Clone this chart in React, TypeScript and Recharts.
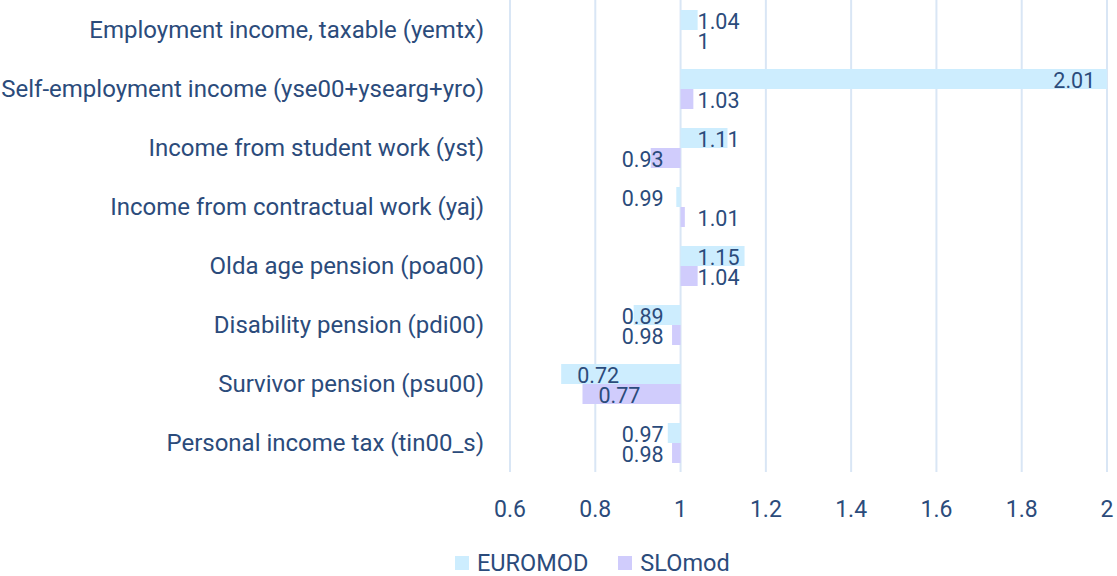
import React from 'react'
import {
  BarChart,
  Bar,
  XAxis,
  YAxis,
  CartesianGrid,
  Legend,
} from 'recharts'

const categories = [
  'Employment income, taxable (yemtx)',
  'Self-employment income (yse00+ysearg+yro)',
  'Income from student work (yst)',
  'Income from contractual work (yaj)',
  'Olda age pension (poa00)',
  'Disability pension (pdi00)',
  'Survivor pension (psu00)',
  'Personal income tax (tin00_s)',
]

const euromod = [1.04, 2.01, 1.11, 0.99, 1.15, 0.89, 0.72, 0.97]
const slomod = [1, 1.03, 0.93, 1.01, 1.04, 0.98, 0.77, 0.98]

const xTicks = [0.6, 0.8, 1, 1.2, 1.4, 1.6, 1.8, 2]
const BASE = 1

const TEXT = '#2b4b7b'
const FONT = 'Roboto, sans-serif'
const EURO_COLOR = '#cdedfe'
const SLO_COLOR = '#d0ccfc'

// bars run from 1 to the ratio, so each bar is a range [1, value]
const chartData = categories.map((name, i) => ({
  name,
  euromod: [BASE, euromod[i]],
  slomod: [BASE, slomod[i]],
}))

const renderLabel = (props: any) => {
  const { x, y, width, height, value } = props
  const v = Array.isArray(value) ? value[1] : value
  const left = Math.min(x, x + width)
  const right = Math.max(x, x + width)
  const len = right - left
  const up = v >= BASE
  const base = up ? left : right
  let tx = 0
  let anchor: 'start' | 'end' = 'start'
  if (len > 80) {
    // long bars: label sits inside the far end
    tx = up ? right - 16 : left + 16
    anchor = up ? 'end' : 'start'
  } else {
    tx = up ? base + 17 : base - 17
    anchor = up ? 'start' : 'end'
  }
  return (
    <text
      x={tx}
      y={y + height / 2 + 1}
      textAnchor={anchor}
      dominantBaseline="central"
      fill={TEXT}
      fontSize={21.5}
      fontFamily={FONT}
    >
      {String(v)}
    </text>
  )
}

const CustomLegend = () => (
  <div style={styles.legend}>
    <span style={{ ...styles.swatch, background: EURO_COLOR }} />
    <span style={styles.legendText}>EUROMOD</span>
    <span style={{ ...styles.swatch, background: SLO_COLOR, marginLeft: 30 }} />
    <span style={styles.legendText}>SLOmod</span>
  </div>
)

export default function App() {
  return (
    <div style={styles.wrap}>
      <BarChart
        width={1117}
        height={576}
        data={chartData}
        layout="vertical"
        margin={{ top: 0, right: 10, left: 0, bottom: 0 }}
        barGap={0}
        barSize={20}
      >
        <CartesianGrid
          horizontal={false}
          stroke="#d9e6f5"
          strokeWidth={2}
        />
        <XAxis
          type="number"
          domain={[0.6, 2]}
          ticks={xTicks}
          allowDataOverflow
          axisLine={false}
          tickLine={false}
          tickSize={0}
          tickMargin={29}
          height={58}
          tick={{ fill: TEXT, fontSize: 23, fontFamily: FONT }}
        />
        <YAxis
          type="category"
          dataKey="name"
          width={510}
          axisLine={false}
          tickLine={false}
          tickSize={0}
          tickMargin={26}
          interval={0}
          tick={{ fill: TEXT, fontSize: 24, fontFamily: FONT }}
        />
        <Legend
          verticalAlign="bottom"
          height={46}
          content={<CustomLegend />}
        />
        <Bar
          dataKey="euromod"
          name="EUROMOD"
          fill={EURO_COLOR}
          minPointSize={0.01}
          isAnimationActive={false}
          label={renderLabel}
        />
        <Bar
          dataKey="slomod"
          name="SLOmod"
          fill={SLO_COLOR}
          minPointSize={0.01}
          isAnimationActive={false}
          label={renderLabel}
        />
      </BarChart>
    </div>
  )
}

const styles: Record<string, React.CSSProperties> = {
  wrap: {
    position: 'absolute',
    left: 0,
    top: 0,
    width: 1117,
    height: 576,
    background: '#fff',
  },
  legend: {
    display: 'flex',
    alignItems: 'center',
    paddingLeft: 455,
    paddingTop: 22,
    fontFamily: FONT,
    lineHeight: '22px',
  },
  swatch: {
    display: 'inline-block',
    width: 14,
    height: 14,
    marginRight: 8,
  },
  legendText: {
    color: TEXT,
    fontSize: 23.5,
    lineHeight: '22px',
  },
}
